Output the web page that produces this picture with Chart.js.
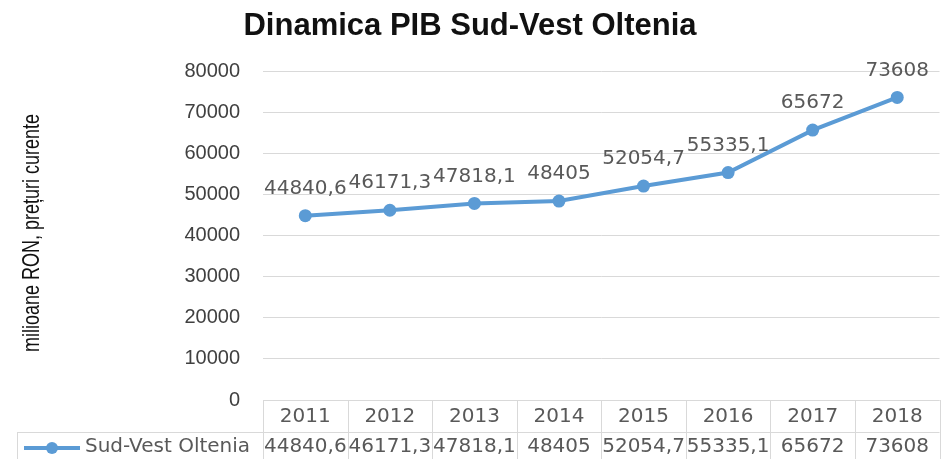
<!DOCTYPE html>
<html>
<head>
<meta charset="utf-8">
<script src="https://cdn.jsdelivr.net/npm/chart.js@4.4.1/dist/chart.umd.min.js"></script>
<style>
html,body{margin:0;padding:0;background:#fff;}
canvas{display:block;}
</style>
</head>
<body>
<canvas id="c" width="946" height="459"></canvas>
<script>
const categories = ['2011','2012','2013','2014','2015','2016','2017','2018'];
const seriesName = 'Sud-Vest Oltenia';
const values = [44840.6, 46171.3, 47818.1, 48405, 52054.7, 55335.1, 65672, 73608];
const valueLabels = ['44840,6','46171,3','47818,1','48405','52054,7','55335,1','65672','73608'];
const chartTitle = 'Dinamica PIB Sud-Vest Oltenia';
const yTitle = 'milioane RON, prețuri curente';

const LINE = '#5B9BD5';
const GRID = '#D9D9D9';
const TXT = '#595959';
const NUMFONT = '20px "DejaVu Sans"';

const extras = {
  id: 'extras',
  afterDatasetsDraw(chart) {
    const ctx = chart.ctx;
    const meta = chart.getDatasetMeta(0);
    ctx.save();
    ctx.font = NUMFONT;
    ctx.fillStyle = TXT;
    ctx.textAlign = 'center';
    ctx.textBaseline = 'middle';
    meta.data.forEach((pt, i) => {
      ctx.fillText(valueLabels[i], pt.x, pt.y - 27);
    });
    ctx.restore();
  },
  afterDraw(chart) {
    const ctx = chart.ctx;
    const x = chart.scales.x;
    const ca = chart.chartArea;
    const band = (ca.right - ca.left) / categories.length;
    const top = ca.bottom, mid = ca.bottom + 32, bot = chart.height + 2;
    const tableLeft = 17;
    ctx.save();
    ctx.strokeStyle = GRID;
    ctx.lineWidth = 1;
    ctx.beginPath();
    ctx.moveTo(ca.left, top + 0.5); ctx.lineTo(ca.right, top + 0.5);
    ctx.moveTo(tableLeft, mid + 0.5); ctx.lineTo(ca.right, mid + 0.5);
    ctx.moveTo(tableLeft + 0.5, mid); ctx.lineTo(tableLeft + 0.5, bot);
    for (let i = 0; i <= categories.length; i++) {
      const xx = Math.round(ca.left + i * band) + 0.5;
      ctx.moveTo(xx, top); ctx.lineTo(xx, bot);
    }
    ctx.stroke();
    ctx.font = NUMFONT;
    ctx.fillStyle = TXT;
    ctx.textAlign = 'center';
    ctx.textBaseline = 'middle';
    categories.forEach((c, i) => {
      const cx = x.getPixelForValue(i);
      ctx.fillText(c, cx, top + 17);
      ctx.fillText(valueLabels[i], cx, mid + 15);
    });
    // legend key
    const ly = mid + 16;
    ctx.strokeStyle = LINE;
    ctx.lineWidth = 4;
    ctx.beginPath();
    ctx.moveTo(24, ly); ctx.lineTo(80, ly);
    ctx.stroke();
    ctx.fillStyle = LINE;
    ctx.beginPath();
    ctx.arc(52, ly, 6, 0, Math.PI * 2);
    ctx.fill();
    ctx.fillStyle = TXT;
    ctx.textAlign = 'left';
    ctx.fillText(seriesName, 85, mid + 15);
    // y axis title (condensed)
    ctx.save();
    ctx.translate(32, 233);
    ctx.rotate(-Math.PI / 2);
    ctx.scale(0.75, 1);
    ctx.font = '24px "Liberation Sans", Arial, sans-serif';
    ctx.fillStyle = '#111';
    ctx.textAlign = 'center';
    ctx.textBaseline = 'middle';
    ctx.fillText(yTitle, 0, 0);
    ctx.restore();
    ctx.restore();
  }
};

new Chart(document.getElementById('c'), {
  type: 'line',
  data: {
    labels: categories,
    datasets: [{
      label: seriesName,
      data: values,
      borderColor: LINE,
      backgroundColor: LINE,
      borderWidth: 4,
      pointRadius: 6.5,
      pointBackgroundColor: LINE,
      pointBorderColor: LINE,
      pointBorderWidth: 0,
      tension: 0,
      fill: false
    }]
  },
  options: {
    responsive: false,
    animation: false,
    layout: { padding: { left: 0, right: 6, top: 0, bottom: 0 } },
    plugins: {
      legend: { display: false },
      tooltip: { enabled: false },
      title: {
        display: true,
        text: chartTitle,
        color: '#111',
        font: { family: '"Liberation Sans", Arial, sans-serif', size: 31, weight: 'bold' },
        padding: { top: 8, bottom: 26 }
      }
    },
    scales: {
      x: {
        offset: true,
        grid: { display: false, drawTicks: false },
        border: { display: false },
        ticks: { display: false },
        afterFit(s) { s.height = 59; }
      },
      y: {
        min: 0, max: 80000,
        ticks: {
          stepSize: 10000,
          padding: 23,
          color: '#404040',
          font: { family: '"Liberation Sans", Arial, sans-serif', size: 20 },
          callback: (v) => String(v)
        },
        grid: { color: GRID, drawTicks: false, lineWidth: 1 },
        border: { display: false },
        afterFit(s) { s.width = 263; }
      }
    }
  },
  plugins: [extras]
});
</script>
</body>
</html>
